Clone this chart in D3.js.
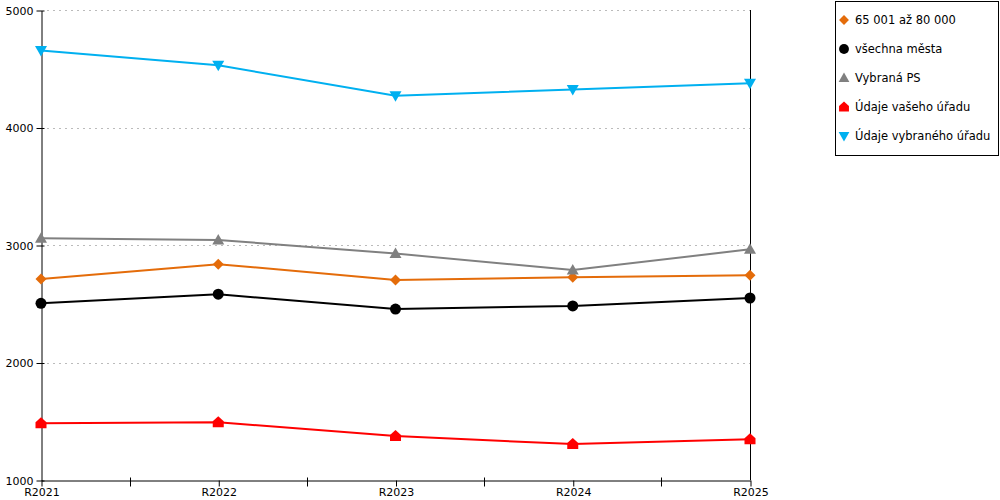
<!DOCTYPE html>
<html>
<head>
<meta charset="utf-8">
<script src="https://cdn.jsdelivr.net/npm/d3@7"></script>
<style>
  body { margin: 0; background: #fff; }
  svg { font-family: "DejaVu Sans", Verdana, sans-serif; }
</style>
</head>
<body>
<div id="chart"></div>
<script>
// data
var categories = ["R2021", "R2022", "R2023", "R2024", "R2025"];
var yTicks = [1000, 2000, 3000, 4000, 5000];
var seriesNames = ["65 001 až 80 000", "všechna města", "Vybraná PS", "Údaje vašeho úřadu", "Údaje vybraného úřadu"];
var orange = [2711, 2837, 2702, 2726, 2743];
var allCities = [2504, 2581, 2455, 2481, 2549];
var selectedPS = [3057, 3043, 2927, 2787, 2963];
var yourOffice = [1482, 1491, 1374, 1306, 1346];
var selectedOffice = [4656, 4529, 4270, 4324, 4376];

var colors = ["#e46c0a", "#000000", "#808080", "#ff0000", "#00b0f0"];
var shapes = ["diamond", "circle", "triUp", "house", "triDown"];
var values = [orange, allCities, selectedPS, yourOffice, selectedOffice];

var width = 1000, height = 500;
var fontFamily = "'DejaVu Sans', Verdana, sans-serif";
var svg = d3.select("#chart").append("svg")
  .attr("width", width)
  .attr("height", height);

var x = d3.scalePoint().domain(categories).range([41, 750]);
var y = d3.scaleLinear().domain([1000, 5000]).range([480, 10]);

function markerPath(shape) {
  switch (shape) {
    case "diamond": return "M0,-5.5L5.5,0L0,5.5L-5.5,0Z";
    case "circle": return "M5.5,0A5.5,5.5 0 1,1 -5.5,0A5.5,5.5 0 1,1 5.5,0Z";
    case "triUp": return "M0,-6L6,4.5L-6,4.5Z";
    case "house": return "M0,-6L5.5,-1L5.5,5L-5.5,5L-5.5,-1Z";
    case "triDown": return "M-6,-4.5L6,-4.5L0,6Z";
  }
}

// dotted gridlines
svg.append("g")
  .selectAll("line")
  .data(yTicks.slice(1))
  .enter().append("line")
  .attr("x1", 47).attr("x2", x.range()[1])
  .attr("y1", d => Math.round(y(d)) + 0.5)
  .attr("y2", d => Math.round(y(d)) + 0.5)
  .attr("stroke", "#bbbbbb")
  .attr("stroke-dasharray", "2,4");

// right border line
svg.append("line")
  .attr("x1", 750.5).attr("x2", 750.5)
  .attr("y1", y(5000)).attr("y2", y(1000))
  .attr("stroke", "#000");

// y axis
var yAxis = svg.append("g")
  .attr("transform", "translate(41.5,0.5)")
  .call(d3.axisLeft(y).tickValues(yTicks).tickFormat(d3.format("d"))
    .tickSize(5).tickPadding(3).tickSizeOuter(0));
yAxis.attr("font-family", fontFamily).attr("font-size", 11);
yAxis.selectAll(".tick line").attr("x1", 3);
yAxis.selectAll("text").attr("fill", "#000");

// x axis
var xAxis = svg.append("g")
  .attr("transform", "translate(0.5,480.5)")
  .call(d3.axisBottom(x).tickSize(6).tickPadding(2).tickSizeOuter(0));
xAxis.attr("font-family", fontFamily).attr("font-size", 11);
xAxis.selectAll("text").attr("fill", "#000");

// minor ticks between categories
var mids = [];
for (var i = 0; i < categories.length - 1; i++) {
  mids.push((x(categories[i]) + x(categories[i + 1])) / 2);
}
xAxis.selectAll("line.minor")
  .data(mids)
  .enter().append("line")
  .attr("class", "minor")
  .attr("x1", d => Math.round(d)).attr("x2", d => Math.round(d))
  .attr("y1", -3).attr("y2", 6)
  .attr("stroke", "#000");

// series
var line = d3.line()
  .x((d, i) => x(categories[i]))
  .y(d => y(d));

values.forEach(function (vals, s) {
  var g = svg.append("g");
  g.append("path")
    .datum(vals)
    .attr("fill", "none")
    .attr("stroke", colors[s])
    .attr("stroke-width", 2)
    .attr("d", line);
  g.selectAll("path.marker")
    .data(vals)
    .enter().append("path")
    .attr("class", "marker")
    .attr("transform", (d, i) => "translate(" + x(categories[i]) + "," + y(d) + ")")
    .attr("d", markerPath(shapes[s]))
    .attr("fill", colors[s]);
});

// legend
var legend = svg.append("g");
legend.append("rect")
  .attr("x", 835.5).attr("y", 1.5)
  .attr("width", 163).attr("height", 154)
  .attr("fill", "#fff")
  .attr("stroke", "#000");
var items = legend.selectAll("g.item")
  .data(seriesNames)
  .enter().append("g")
  .attr("class", "item")
  .attr("transform", (d, i) => "translate(844," + (20 + i * 29) + ")");
items.append("path")
  .attr("d", (d, i) => markerPath(shapes[i]))
  .attr("transform", "scale(0.9)")
  .attr("fill", (d, i) => colors[i]);
items.append("text")
  .attr("x", 11)
  .attr("dy", "0.35em")
  .style("font-size", "11.5px")
  .attr("fill", "#000")
  .text(d => d);
</script>
</body>
</html>
